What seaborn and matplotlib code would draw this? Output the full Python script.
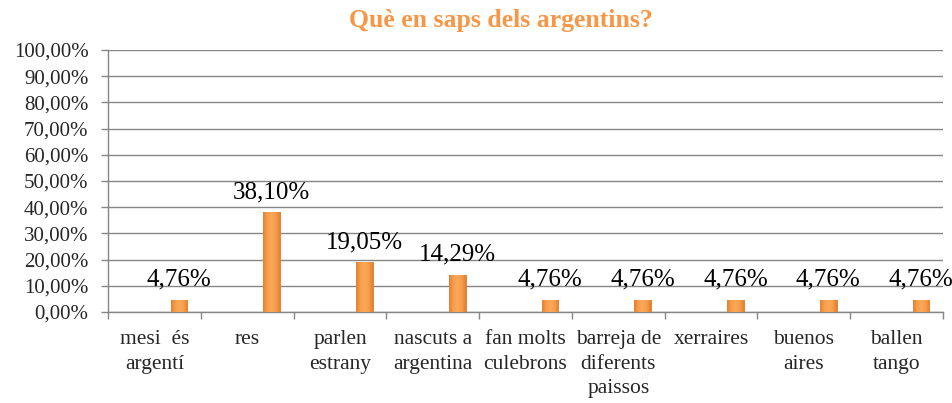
import matplotlib
matplotlib.use("Agg")
import matplotlib.pyplot as plt
import seaborn as sns
import pandas as pd
import numpy as np
from matplotlib.ticker import FixedLocator, FuncFormatter
from matplotlib.colors import LinearSegmentedColormap

categories = ["mesi  és\nargentí", "res", "parlen\nestrany", "nascuts a\nargentina",
              "fan molts\nculebrons", "barreja de\ndiferents\npaissos", "xerraires",
              "buenos\naires", "ballen\ntango"]
values = [4.76, 38.10, 19.05, 14.29, 4.76, 4.76, 4.76, 4.76, 4.76]
title = "Què en saps dels argentins?"

sns.set_theme(style="white")
plt.rcParams['font.family'] = ['Liberation Serif', 'DejaVu Serif']

df = pd.DataFrame({"cat": categories, "val": values})

fig = plt.figure(figsize=(9.52, 4.03), dpi=100)
ax = fig.add_axes([108/952, 1-312/403, (943-108)/952, (312-50)/403])

sns.barplot(data=df, x="cat", y="val", order=categories, color="#F79A47",
            ax=ax, saturation=1, edgecolor="#D9782E", linewidth=0.6, zorder=3)

bw = 0.18
off = 0.264
cmap = LinearSegmentedColormap.from_list("bar", ["#E2812F", "#F79D4C", "#F9A859", "#F79D4C", "#E2812F"])
grad = np.linspace(0, 1, 64).reshape(1, -1)
for i, p in enumerate(list(ax.patches)):
    p.set_width(bw)
    p.set_x(i + off - bw/2)
    v = values[i]
    im = ax.imshow(grad, cmap=cmap, aspect="auto", zorder=3.5,
                   extent=(i + off - bw/2, i + off + bw/2, 0, v), interpolation="bilinear")
    im.set_clip_path(p)
    ax.annotate(f"{v:.2f}%".replace(".", ","), (i + off, v), xytext=(0, 10),
                textcoords="offset points", ha="center", va="baseline",
                fontsize=18, color="black")

ax.set_xlim(-0.5, len(categories) - 0.5)
ax.set_ylim(0, 100)
ax.set_yticks(range(0, 101, 10))
ax.yaxis.set_major_formatter(FuncFormatter(lambda y, _: f"{y:.2f}%".replace(".", ",")))
ax.yaxis.grid(True, color="#868686", linewidth=1, zorder=0)
ax.set_axisbelow(True)

ax.set_xticks(range(len(categories)))
ax.set_xticklabels(categories, linespacing=1.4)
ax.xaxis.set_minor_locator(FixedLocator([i - 0.5 for i in range(len(categories) + 1)]))
ax.tick_params(axis="x", which="major", length=0, pad=13, labelsize=15.5)
ax.tick_params(axis="x", which="minor", length=5, color="#868686", width=1, direction="out", bottom=True)
ax.tick_params(axis="y", which="major", length=5, color="#868686", width=1, direction="out",
               left=True, pad=9, labelsize=15)

for s in ["top", "right"]:
    ax.spines[s].set_visible(False)
for s in ["left", "bottom"]:
    ax.spines[s].set_color("#868686")
    ax.spines[s].set_linewidth(1)

ax.set_xlabel("")
ax.set_ylabel("")

fig.text(501/952, 1-27/403, title, ha="center", va="baseline", fontsize=18.5,
         fontweight="bold", color="#F79646")

fig.savefig("out.png", dpi=100)
